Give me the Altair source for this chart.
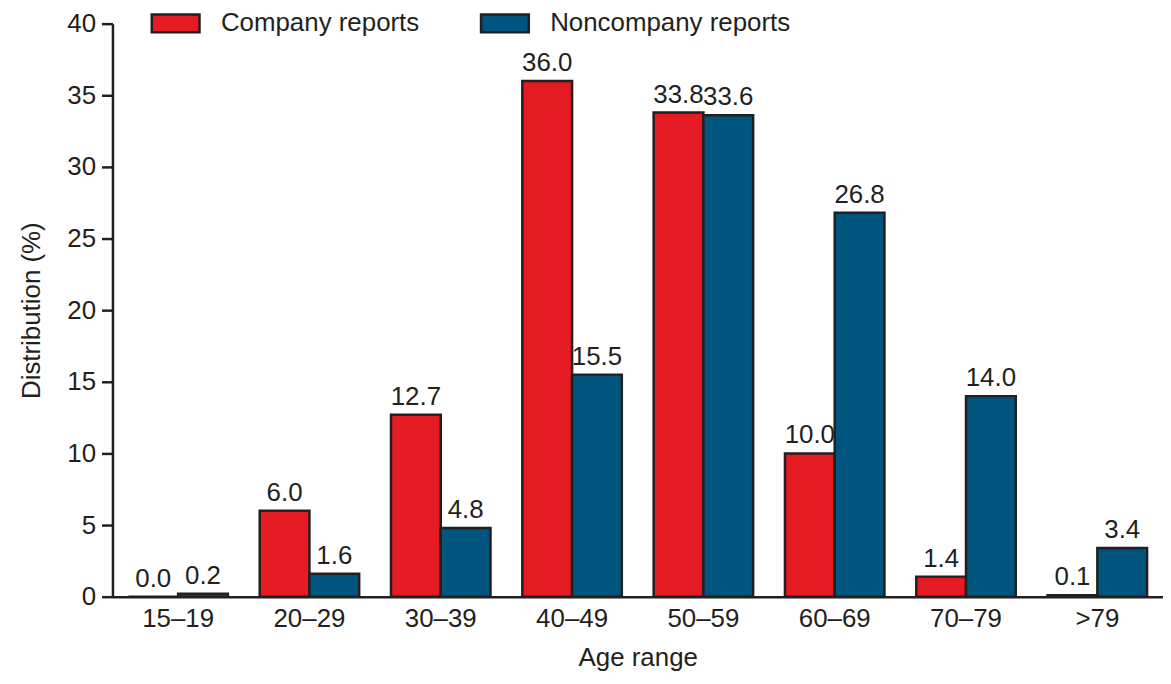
import altair as alt
import pandas as pd

categories = ["15–19", "20–29", "30–39", "40–49", "50–59", "60–69", "70–79", ">79"]
company = [0.0, 6.0, 12.7, 36.0, 33.8, 10.0, 1.4, 0.1]
noncompany = [0.2, 1.6, 4.8, 15.5, 33.6, 26.8, 14.0, 3.4]
series = ["Company reports", "Noncompany reports"]
colors = ["#e41b23", "#00557f"]

rows = []
for c, a, b in zip(categories, company, noncompany):
    rows.append({"age": c, "series": series[0], "value": a, "label": f"{a:.1f}"})
    rows.append({"age": c, "series": series[1], "value": b, "label": f"{b:.1f}"})
df = pd.DataFrame(rows)

INK = "#231f20"
FONT = "Liberation Sans"

x = alt.X("age:N", sort=categories, title="Age range",
          scale=alt.Scale(paddingInner=0.2424, paddingOuter=0.1212),
          axis=alt.Axis(labelAngle=0, ticks=False, labelPadding=9,
                        labelFontSize=26, titleFontSize=26, titleFontWeight="normal",
                        titlePadding=13, domainColor=INK, domainWidth=2.5,
                        labelColor=INK, titleColor=INK, labelFont=FONT, titleFont=FONT))
xo = alt.XOffset("series:N", sort=series)
y = alt.Y("value:Q", title="Distribution (%)",
          scale=alt.Scale(domain=[0, 40], nice=False),
          axis=alt.Axis(values=[0, 5, 10, 15, 20, 25, 30, 35, 40], grid=False,
                        tickSize=11, tickWidth=2.5, tickColor=INK,
                        domainColor=INK, domainWidth=2.5, labelPadding=6,
                        labelFontSize=26, titleFontSize=26, titleFontWeight="normal",
                        titlePadding=22, labelColor=INK, titleColor=INK,
                        labelFont=FONT, titleFont=FONT))

bars = alt.Chart(df).mark_bar(stroke=INK, strokeWidth=2.5).encode(
    x=x, xOffset=xo, y=y,
    fill=alt.Fill("series:N", sort=series,
                  scale=alt.Scale(domain=series, range=colors),
                  legend=alt.Legend(title=None, orient="none", direction="horizontal",
                                    legendX=38, legendY=-26,
                                    symbolType="M-1,-0.375L1,-0.375L1,0.375L-1,0.375Z",
                                    symbolSize=2304, symbolStrokeColor=INK,
                                    symbolStrokeWidth=2.5, symbolOpacity=1,
                                    labelFontSize=26, labelFont=FONT, labelColor=INK,
                                    labelLimit=0, labelOffset=20, columnPadding=56,
                                    padding=0)),
)

text = alt.Chart(df).mark_text(baseline="alphabetic", dy=-10, fontSize=26,
                               font=FONT, color=INK).encode(
    x=alt.X("age:N", sort=categories), xOffset=xo,
    y=alt.Y("value:Q"),
    text="label:N",
)

chart = alt.layer(bars, text).properties(
    width=1056, height=576,
    autosize=alt.AutoSizeParams(type="none"),
    padding={"left": 105, "top": 14, "right": 0, "bottom": 78},
    background="white",
)
chart = chart.configure(font=FONT).configure_view(stroke=None).configure_axis(grid=False)

chart.save("out.html", embed_options={"renderer": "svg", "actions": False})
